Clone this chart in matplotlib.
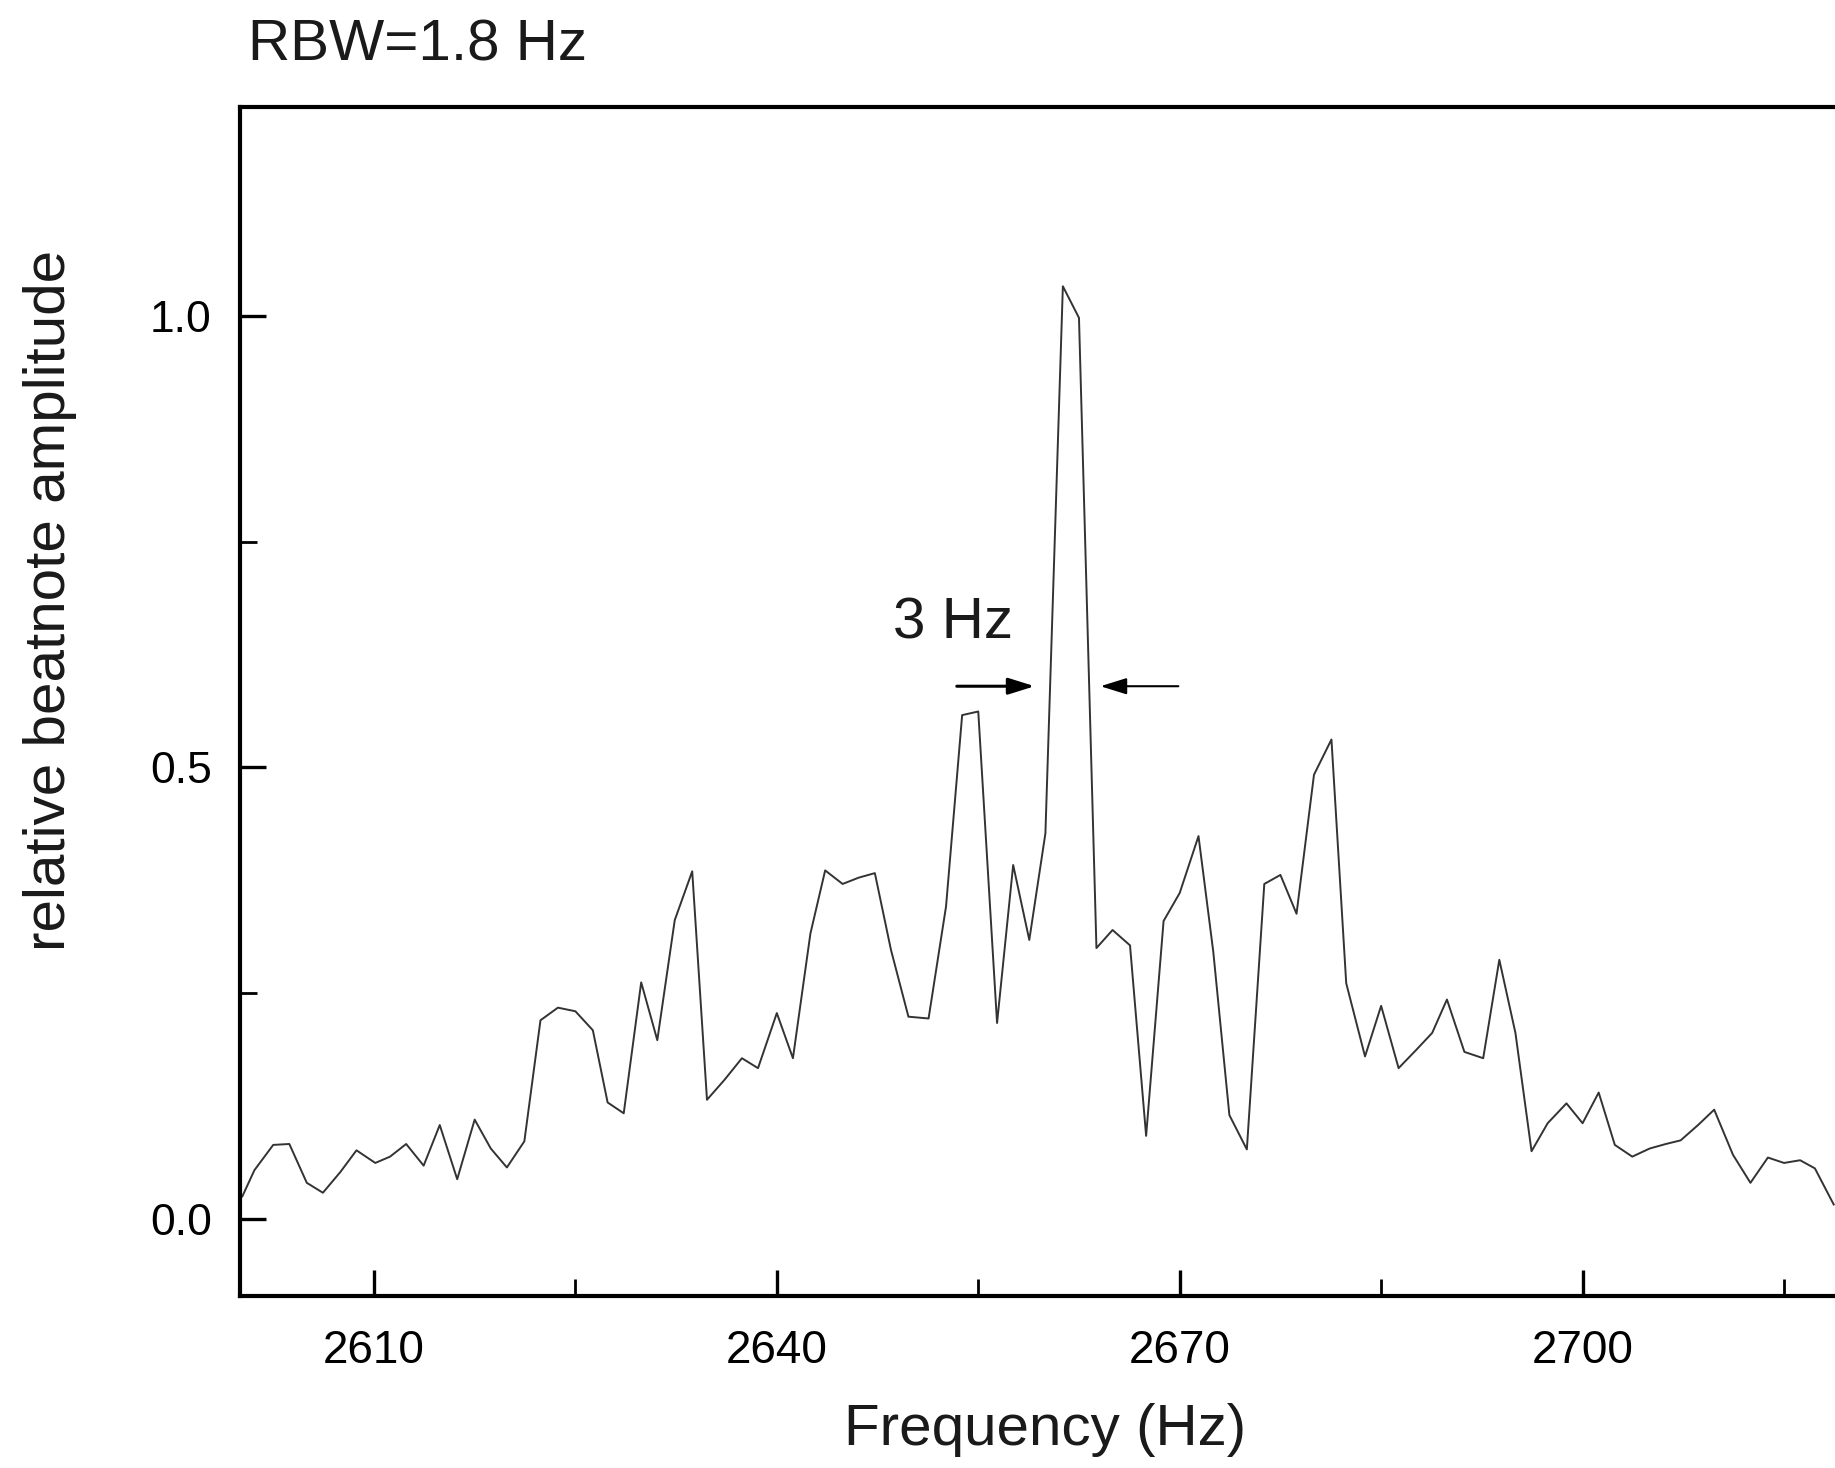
import numpy as np
import matplotlib
matplotlib.use("Agg")
import matplotlib.pyplot as plt
from matplotlib.ticker import MultipleLocator

plt.rcParams['font.family'] = ['Liberation Sans', 'DejaVu Sans']

# beatnote spectrum around 2660 Hz
freq = [2600.2, 2601.1, 2602.5, 2603.7, 2605.0, 2606.2, 2607.5, 2608.7, 2610.1, 2611.2,
        2612.4, 2613.7, 2614.9, 2616.2, 2617.5, 2618.7, 2619.9, 2621.2, 2622.4, 2623.7,
        2625.0, 2626.3, 2627.4, 2628.6, 2629.9, 2631.1, 2632.4, 2633.7, 2634.8, 2636.1,
        2637.4, 2638.6, 2640.0, 2641.2, 2642.5, 2643.6, 2644.9, 2646.1, 2647.3, 2648.5,
        2649.8, 2651.3, 2652.6, 2653.8, 2655.0, 2656.4, 2657.6, 2658.8, 2660.0, 2661.3,
        2662.5, 2663.8, 2665.0, 2666.3, 2667.5, 2668.8, 2670.0, 2671.4, 2672.5, 2673.7,
        2675.0, 2676.3, 2677.5, 2678.7, 2680.0, 2681.3, 2682.4, 2683.8, 2685.0, 2686.3,
        2687.6, 2688.8, 2689.9, 2691.2, 2692.6, 2693.8, 2695.0, 2696.2, 2697.4, 2698.8,
        2700.0, 2701.2, 2702.4, 2703.7, 2705.0, 2706.2, 2707.3, 2708.6, 2709.8, 2711.2,
        2712.5, 2713.8, 2715.0, 2716.2, 2717.3, 2718.7]
amp = [0.025, 0.054, 0.082, 0.083, 0.040, 0.029, 0.052, 0.076, 0.062, 0.069,
       0.083, 0.059, 0.104, 0.044, 0.110, 0.078, 0.057, 0.086, 0.220, 0.234,
       0.230, 0.209, 0.129, 0.117, 0.262, 0.198, 0.331, 0.385, 0.132, 0.154,
       0.178, 0.167, 0.228, 0.178, 0.316, 0.386, 0.371, 0.378, 0.383, 0.298,
       0.224, 0.222, 0.346, 0.558, 0.562, 0.217, 0.392, 0.309, 0.427, 1.033,
       0.998, 0.300, 0.320, 0.303, 0.092, 0.330, 0.361, 0.424, 0.296, 0.115,
       0.077, 0.371, 0.381, 0.338, 0.492, 0.531, 0.261, 0.180, 0.236, 0.167,
       0.187, 0.206, 0.243, 0.185, 0.178, 0.287, 0.206, 0.075, 0.106, 0.128,
       0.106, 0.140, 0.082, 0.069, 0.078, 0.083, 0.087, 0.104, 0.121, 0.071,
       0.040, 0.068, 0.062, 0.065, 0.056, 0.016]

# linewidth markers: arrows pointing at the half-width of the main peak
arrow_y = 0.59
left_arrow = (2653.4, 2659.2)
right_arrow = (2669.9, 2664.1)

fig = plt.figure(figsize=(18.35, 14.68), dpi=100)
# the frame runs past the right edge of the figure
ax = fig.add_axes([0.1306, 0.1172, 0.9148, 0.8099])

ax.plot(freq, amp, color='#333333', lw=1.4)

ax.set_xlim(2600, 2725)
ax.set_ylim(-0.0853, 1.2315)
ax.xaxis.set_major_locator(MultipleLocator(30))
ax.xaxis.set_minor_locator(MultipleLocator(15))
ax.yaxis.set_major_locator(MultipleLocator(0.5))
ax.yaxis.set_minor_locator(MultipleLocator(0.25))
ax.yaxis.set_major_formatter(matplotlib.ticker.FormatStrFormatter('%.1f'))

ax.tick_params(which='both', direction='in', top=False, right=False, colors='black')
ax.tick_params(which='major', length=19, width=2.4, labelsize=32)
ax.tick_params(axis='x', which='major', pad=24, labelsize=33)
ax.tick_params(axis='y', which='major', pad=20)
ax.tick_params(which='minor', length=12, width=2)

for side in ['left', 'bottom', 'top']:
    ax.spines[side].set_linewidth(3)
ax.spines['right'].set_visible(False)

ax.set_xlabel('Frequency (Hz)', fontsize=42, color='#1a1a1a')
ax.xaxis.set_label_coords(0.4797, -0.090)
fig.text(0.027, 0.591, 'relative beatnote amplitude', rotation=90,
         ha='center', va='center', fontsize=42, color='#1a1a1a')
fig.text(0.135, 0.959, 'RBW=1.8 Hz', fontsize=42, va='baseline', color='#1a1a1a')

ax.text(2648.65, 0.6434, '3 Hz', fontsize=42, ha='left', va='baseline', color='#1a1a1a')
ax.annotate('', xy=(left_arrow[1], arrow_y), xytext=(left_arrow[0], arrow_y),
            arrowprops=dict(arrowstyle='-|>,head_length=0.8,head_width=0.25',
                            mutation_scale=20, lw=2.2, color='black',
                            shrinkA=0, shrinkB=0))
ax.annotate('', xy=(right_arrow[1], arrow_y), xytext=(right_arrow[0], arrow_y),
            arrowprops=dict(arrowstyle='-|>,head_length=0.8,head_width=0.25',
                            mutation_scale=20, lw=1.5, color='black',
                            shrinkA=0, shrinkB=0))

fig.savefig('out.png', dpi=100, facecolor='white')
